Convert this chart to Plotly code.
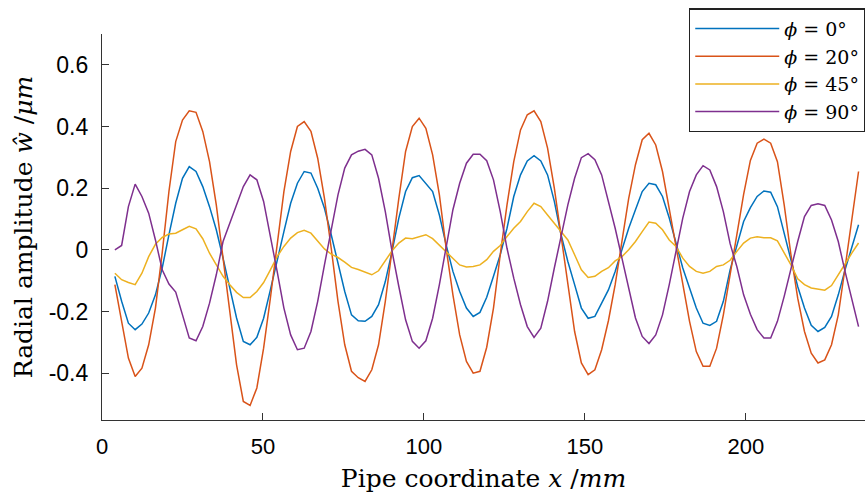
import numpy as np
import plotly.graph_objects as go

# Sample positions along the pipe (mm): regular grid, 111 samples
x_first, x_last, n_samples = 4.0, 235.0, 111
pipe_x = np.linspace(x_first, x_last, n_samples)

series_names = ["<i>ϕ</i> = 0°", "<i>ϕ</i> = 20°", "<i>ϕ</i> = 45°", "<i>ϕ</i> = 90°"]
series_colors = ["#0072BD", "#D95319", "#EDB120", "#7E2F8E"]

phi_0 = [
    -0.086, -0.167, -0.238, -0.259, -0.241, -0.205, -0.146, -0.059, 0.049, 0.151,
    0.232, 0.270, 0.254, 0.205, 0.140, 0.065, -0.027, -0.124, -0.221, -0.297,
    -0.308, -0.284, -0.222, -0.130, -0.032, 0.059, 0.151, 0.216, 0.254, 0.249,
    0.200, 0.135, 0.049, -0.043, -0.135, -0.211, -0.230, -0.232, -0.216, -0.178,
    -0.103, -0.005, 0.103, 0.189, 0.234, 0.241, 0.216, 0.189, 0.113, 0.016,
    -0.070, -0.135, -0.189, -0.216, -0.203, -0.154, -0.086, -0.016, 0.070, 0.173,
    0.243, 0.288, 0.305, 0.288, 0.243, 0.157, 0.049, -0.038, -0.113, -0.189,
    -0.222, -0.216, -0.173, -0.130, -0.070, 0.000, 0.070, 0.130, 0.189, 0.216,
    0.211, 0.173, 0.103, 0.022, -0.059, -0.124, -0.189, -0.238, -0.245, -0.232,
    -0.167, -0.065, 0.010, 0.092, 0.137, 0.173, 0.191, 0.187, 0.140, 0.054,
    -0.032, -0.119, -0.189, -0.245, -0.265, -0.252, -0.216, -0.146, -0.065, 0.011,
    0.081,
]

phi_20 = [
    -0.113, -0.232, -0.351, -0.411, -0.384, -0.308, -0.189, -0.010, 0.190, 0.351,
    0.421, 0.451, 0.446, 0.384, 0.286, 0.146, -0.027, -0.211, -0.373, -0.492,
    -0.505, -0.448, -0.319, -0.157, 0.016, 0.189, 0.319, 0.400, 0.416, 0.384,
    0.297, 0.167, 0.005, -0.167, -0.308, -0.394, -0.415, -0.427, -0.389, -0.308,
    -0.167, 0.005, 0.167, 0.319, 0.400, 0.427, 0.394, 0.308, 0.178, 0.005,
    -0.146, -0.276, -0.362, -0.400, -0.394, -0.316, -0.189, -0.016, 0.146, 0.286,
    0.389, 0.438, 0.451, 0.416, 0.330, 0.200, 0.049, -0.113, -0.265, -0.367,
    -0.405, -0.389, -0.324, -0.230, -0.113, 0.027, 0.167, 0.276, 0.357, 0.378,
    0.340, 0.254, 0.135, 0.016, -0.113, -0.232, -0.330, -0.378, -0.378, -0.319,
    -0.211, -0.085, 0.045, 0.180, 0.290, 0.346, 0.359, 0.346, 0.286, 0.146,
    -0.016, -0.157, -0.265, -0.335, -0.367, -0.357, -0.308, -0.211, -0.059, 0.103,
    0.254,
]

phi_45 = [
    -0.076, -0.097, -0.106, -0.113, -0.076, -0.022, 0.018, 0.040, 0.051, 0.054,
    0.065, 0.076, 0.068, 0.036, -0.011, -0.051, -0.086, -0.113, -0.138, -0.155,
    -0.155, -0.135, -0.106, -0.065, -0.022, 0.011, 0.038, 0.056, 0.063, 0.054,
    0.029, 0.003, -0.014, -0.025, -0.040, -0.057, -0.064, -0.072, -0.081, -0.068,
    -0.036, -0.003, 0.022, 0.038, 0.036, 0.043, 0.049, 0.036, 0.014, -0.008,
    -0.029, -0.049, -0.056, -0.054, -0.049, -0.032, -0.005, 0.014, 0.043, 0.070,
    0.092, 0.124, 0.151, 0.140, 0.113, 0.086, 0.059, 0.032, -0.016, -0.065,
    -0.090, -0.086, -0.070, -0.058, -0.036, -0.022, 0.000, 0.027, 0.059, 0.090,
    0.086, 0.065, 0.032, 0.011, -0.027, -0.054, -0.070, -0.076, -0.070, -0.054,
    -0.049, -0.034, -0.005, 0.022, 0.038, 0.042, 0.039, 0.039, 0.029, -0.008,
    -0.049, -0.094, -0.113, -0.124, -0.128, -0.131, -0.116, -0.083, -0.046, -0.011,
    0.022,
]

phi_90 = [
    0.000, 0.014, 0.140, 0.213, 0.173, 0.119, 0.032, -0.065, -0.111, -0.137,
    -0.211, -0.286, -0.295, -0.249, -0.173, -0.081, 0.027, 0.086, 0.143, 0.205,
    0.243, 0.227, 0.157, 0.049, -0.070, -0.189, -0.276, -0.324, -0.319, -0.265,
    -0.167, -0.049, 0.070, 0.178, 0.265, 0.308, 0.320, 0.326, 0.308, 0.232,
    0.124, -0.005, -0.119, -0.227, -0.297, -0.319, -0.295, -0.222, -0.113, 0.011,
    0.130, 0.216, 0.281, 0.310, 0.310, 0.289, 0.227, 0.124, 0.005, -0.092,
    -0.178, -0.249, -0.284, -0.254, -0.167, -0.059, 0.043, 0.146, 0.232, 0.299,
    0.312, 0.292, 0.243, 0.160, 0.070, -0.027, -0.124, -0.221, -0.281, -0.304,
    -0.276, -0.211, -0.113, 0.000, 0.103, 0.189, 0.243, 0.273, 0.259, 0.205,
    0.124, 0.020, -0.055, -0.146, -0.209, -0.259, -0.286, -0.286, -0.232, -0.151,
    -0.059, 0.027, 0.108, 0.144, 0.149, 0.144, 0.097, 0.027, -0.070, -0.157,
    -0.249,
]

x_tick_vals = [0, 50, 100, 150, 200]
x_tick_text = ["0", "50", "100", "150", "200"]
y_tick_vals = [-0.4, -0.2, 0, 0.2, 0.4, 0.6]
y_tick_text = ["-0.4", "-0.2", "0", "0.2", "0.4", "0.6"]

fig = go.Figure()
for name, color, vals in zip(series_names, series_colors, [phi_0, phi_20, phi_45, phi_90]):
    fig.add_trace(go.Scatter(x=pipe_x, y=vals, mode="lines", name=name,
                             line=dict(color=color, width=1.5)))

sans = "Liberation Sans, Arial, sans-serif"
serif = "DejaVu Serif, Liberation Serif, serif"

fig.update_layout(
    width=865, height=494,
    margin=dict(l=102, r=0, t=34, b=74, autoexpand=False),
    paper_bgcolor="white", plot_bgcolor="white",
    showlegend=True,
    legend=dict(
        x=0.769, xanchor="left", y=1.067, yanchor="top",
        bgcolor="white", bordercolor="#222222", borderwidth=1.5,
        font=dict(family=serif, size=19, color="black"),
        itemwidth=84, tracegroupgap=0,
    ),
    xaxis=dict(
        range=[0, 237], showgrid=False, zeroline=False,
        showline=True, linecolor="#333333", linewidth=1.2,
        ticks="inside", ticklen=7, tickcolor="#333333",
        tickvals=x_tick_vals, ticktext=x_tick_text,
        tickfont=dict(family=sans, size=22, color="black"),
        ticklabelstandoff=6,
        title=dict(text="Pipe coordinate <i>x</i> /<i>mm</i>",
                   font=dict(family=serif, size=25, color="black"), standoff=11),
    ),
    yaxis=dict(
        range=[-0.552, 0.70], showgrid=False, zeroline=False,
        showline=True, linecolor="#333333", linewidth=1.2,
        ticks="inside", ticklen=7, tickcolor="#333333",
        tickvals=y_tick_vals, ticktext=y_tick_text,
        tickfont=dict(family=sans, size=23, color="black"),
        ticklabelstandoff=8,
        title=dict(text="Radial amplitude <i>ŵ</i> /<i>μm</i>",
                   font=dict(family=serif, size=25, color="black"), standoff=8),
    ),
)

fig.write_html(
    "out.html",
    config={"displayModeBar": False},
    post_script="document.body.style.margin='0';document.body.style.overflow='hidden';",
)
